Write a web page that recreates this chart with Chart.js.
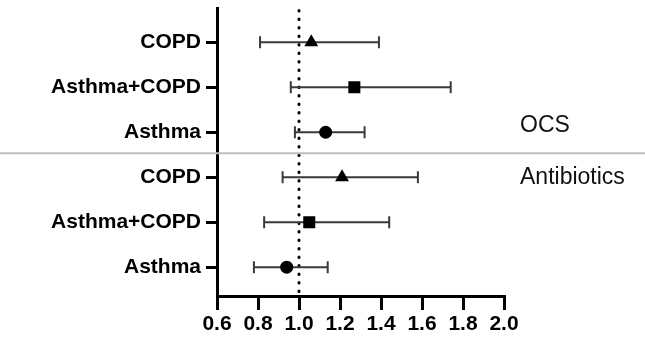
<!DOCTYPE html>
<html>
<head>
<meta charset="utf-8">
<script src="https://cdn.jsdelivr.net/npm/chart.js@4"></script>
<style>
  html, body { margin: 0; padding: 0; background: #fff; }
  #wrap { width: 645px; height: 346px; position: relative; }
</style>
</head>
<body>
<div id="wrap"><canvas id="forest"></canvas></div>
<script>
// Daten (Odds Ratios mit 95%-KI)
const categories = ['Asthma', 'Asthma+COPD', 'COPD'];
const groups = ['Antibiotics', 'OCS'];
const abxOR   = [0.94, 1.05, 1.21];
const abxLow  = [0.78, 0.83, 0.92];
const abxHigh = [1.14, 1.44, 1.58];
const ocsOR   = [1.13, 1.27, 1.06];
const ocsLow  = [0.98, 0.96, 0.81];
const ocsHigh = [1.32, 1.74, 1.39];
const markerStyles = ['circle', 'rect', 'triangle'];
const xTicks = [0.6, 0.8, 1.0, 1.2, 1.4, 1.6, 1.8, 2.0];
const refLine = 1.0;

// Zeilen: Antibiotics unten (1-3), OCS oben (4-6)
const rowLabels = [...categories, ...categories];
const points = [];
const abxPts = abxOR.map((v, i) => ({ x: v, y: i + 1, lo: abxLow[i], hi: abxHigh[i] }));
const ocsPts = ocsOR.map((v, i) => ({ x: v, y: i + 4, lo: ocsLow[i], hi: ocsHigh[i] }));
points.push(...abxPts, ...ocsPts);
const pointShapes = [...markerStyles, ...markerStyles];
const pointSizes = [6.5, 8.5, 8, 6.5, 8.5, 8];

// Fehlerbalken, Referenzlinie, Trennlinie und Gruppenbeschriftung
const forestPlugin = {
  id: 'forest',
  beforeDatasetsDraw(chart) {
    const { ctx, chartArea, scales: { x, y } } = chart;
    ctx.save();
    // gepunktete Linie bei 1.0
    ctx.strokeStyle = '#000';
    ctx.lineWidth = 3;
    ctx.lineCap = 'round';
    ctx.setLineDash([0.5, 8]);
    const xr = x.getPixelForValue(refLine);
    ctx.beginPath();
    ctx.moveTo(xr, chartArea.top + 2);
    ctx.lineTo(xr, chartArea.bottom - 2);
    ctx.stroke();
    ctx.setLineDash([]);
    ctx.lineCap = 'butt';

    // Trennlinie zwischen den Gruppen
    const ys = y.getPixelForValue(3.53);
    ctx.strokeStyle = '#bdbdbd';
    ctx.lineWidth = 2;
    ctx.beginPath();
    ctx.moveTo(0, ys);
    ctx.lineTo(chart.width, ys);
    ctx.stroke();

    // Fehlerbalken
    ctx.strokeStyle = '#3a3a3a';
    ctx.lineWidth = 2;
    points.forEach(p => {
      const py = y.getPixelForValue(p.y);
      const x1 = x.getPixelForValue(p.lo);
      const x2 = x.getPixelForValue(p.hi);
      ctx.beginPath();
      ctx.moveTo(x1, py); ctx.lineTo(x2, py);
      ctx.moveTo(x1, py - 6); ctx.lineTo(x1, py + 6);
      ctx.moveTo(x2, py - 6); ctx.lineTo(x2, py + 6);
      ctx.stroke();
    });

    // Gruppen
    ctx.fillStyle = '#111';
    ctx.font = '23px "Liberation Sans", Arial, sans-serif';
    ctx.textBaseline = 'middle';
    ctx.textAlign = 'left';
    ctx.fillText(groups[1], 520, y.getPixelForValue(4.15));
    ctx.fillText(groups[0], 520, y.getPixelForValue(2.98));
    ctx.restore();
  }
};

new Chart(document.getElementById('forest'), {
  type: 'scatter',
  data: {
    datasets: [{
      data: points,
      pointStyle: pointShapes,
      pointRadius: pointSizes,
      pointHoverRadius: pointSizes,
      backgroundColor: '#000',
      borderColor: '#000',
      borderWidth: 0
    }]
  },
  options: {
    responsive: true,
    maintainAspectRatio: false,
    animation: false,
    layout: { padding: { top: 8, right: 141, left: 0, bottom: 0 } },
    plugins: {
      legend: { display: false },
      tooltip: { enabled: false }
    },
    scales: {
      x: {
        type: 'linear',
        min: 0.6,
        max: 2.0,
        afterBuildTicks: s => { s.ticks = xTicks.map(v => ({ value: v })); },
        afterFit: s => { s.height = 50; s.paddingLeft = 0; },
        grid: { display: true, drawOnChartArea: false, drawTicks: true, tickLength: 14, color: '#000', lineWidth: 3 },
        border: { display: true, color: '#000', width: 3 },
        ticks: {
          color: '#000',
          padding: 2,
          maxRotation: 0,
          font: { family: '"Liberation Sans", Arial, sans-serif', size: 21, weight: 'bold' },
          callback: v => Number(v).toFixed(1)
        }
      },
      y: {
        type: 'linear',
        min: 0.36,
        max: 6.75,
        afterBuildTicks: s => { s.ticks = rowLabels.map((_, i) => ({ value: i + 1 })); },
        afterFit: s => { s.width = 217; s.paddingTop = 0; s.paddingBottom = 0; },
        grid: { display: true, drawOnChartArea: false, drawTicks: true, tickLength: 11, color: '#000', lineWidth: 3 },
        border: { display: true, color: '#000', width: 3 },
        ticks: {
          color: '#000',
          padding: 5,
          font: { family: '"Liberation Sans", Arial, sans-serif', size: 21, weight: 'bold' },
          callback: v => rowLabels[v - 1]
        }
      }
    }
  },
  plugins: [forestPlugin]
});
</script>
</body>
</html>
